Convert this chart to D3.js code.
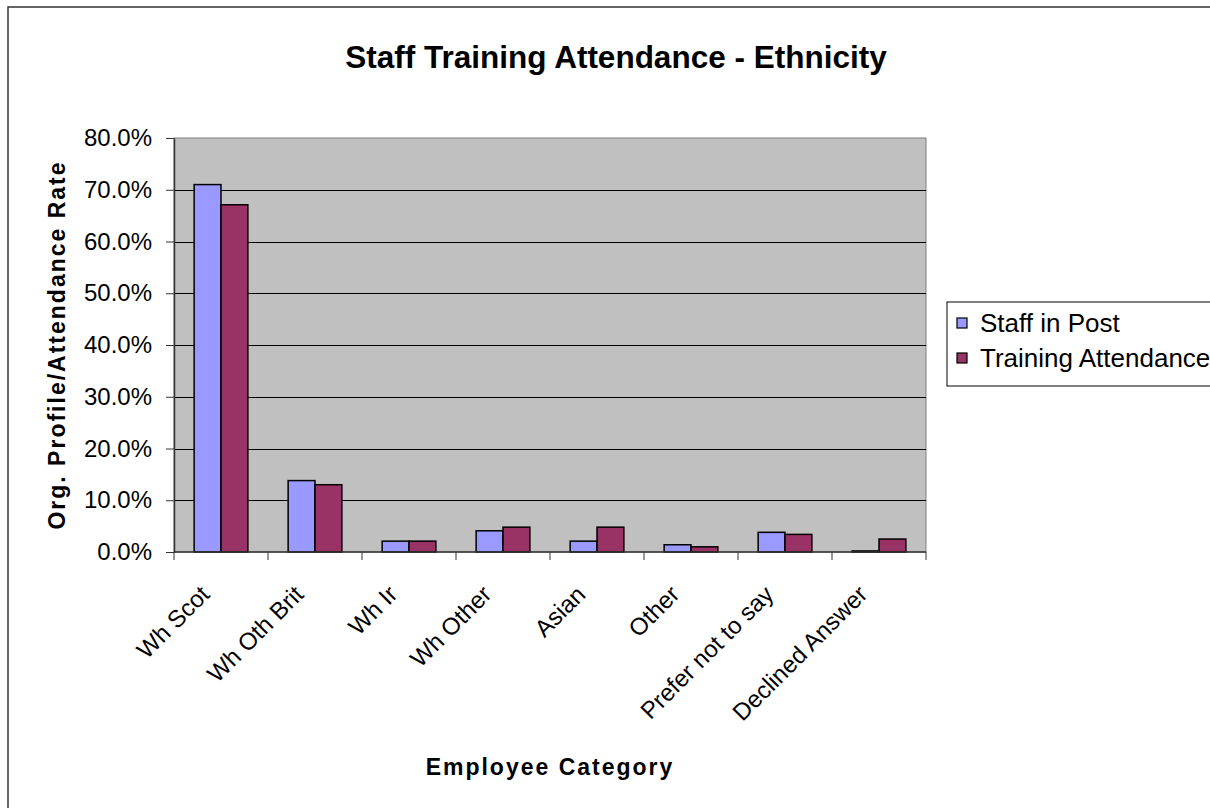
<!DOCTYPE html>
<html>
<head>
<meta charset="utf-8">
<script src="https://cdn.jsdelivr.net/npm/d3@7/dist/d3.min.js"></script>
<style>
  html, body { margin: 0; padding: 0; background: #fff; }
  svg { display: block; font-family: "Liberation Sans", Arial, sans-serif; }
</style>
</head>
<body>
<svg id="chart" width="1210" height="808"></svg>
<script>
// Ethnicity categories and the share (%) of each group
const categories = ["Wh Scot", "Wh Oth Brit", "Wh Ir", "Wh Other", "Asian", "Other", "Prefer not to say", "Declined Answer"];
const seriesNames = ["Staff in Post", "Training Attendance"];
const staffInPost = [71.0, 13.8, 2.1, 4.1, 2.1, 1.4, 3.8, 0.2];
const trainingAttendance = [67.1, 13.0, 2.1, 4.8, 4.8, 1.0, 3.4, 2.5];
const yTicks = [0, 10, 20, 30, 40, 50, 60, 70, 80];
const seriesColors = ["#9999FF", "#993366"];

const rows = categories.map((c, i) => ({
  category: c,
  values: [staffInPost[i], trainingAttendance[i]]
}));

const svg = d3.select("#chart");
const plot = { left: 174, right: 926, top: 138, bottom: 552 };

// Outer chart frame
svg.append("rect")
  .attr("x", 8).attr("y", 7)
  .attr("width", 1300).attr("height", 900)
  .attr("fill", "#fff")
  .attr("stroke", "#333").attr("stroke-width", 1.5);

const x = d3.scaleBand().domain(categories).range([plot.left, plot.right]).padding(0);
const xInner = d3.scaleBand().domain(seriesNames).range([0, x.bandwidth()])
  .paddingInner(0).paddingOuter(0.75);
const y = d3.scaleLinear().domain([0, 80]).range([plot.bottom, plot.top]);

// Plot background
svg.append("rect")
  .attr("x", plot.left).attr("y", plot.top)
  .attr("width", plot.right - plot.left).attr("height", plot.bottom - plot.top)
  .attr("fill", "#C0C0C0")
  .attr("stroke", "#808080").attr("stroke-width", 1);

// Horizontal gridlines
svg.append("g")
  .selectAll("line")
  .data(yTicks.filter(t => t > 0 && t < 80))
  .join("line")
  .attr("x1", plot.left).attr("x2", plot.right)
  .attr("y1", d => Math.round(y(d)) + 0.5).attr("y2", d => Math.round(y(d)) + 0.5)
  .attr("stroke", "#000").attr("stroke-width", 1);

// Bars
const groups = svg.append("g")
  .selectAll("g")
  .data(rows)
  .join("g")
  .attr("transform", d => `translate(${x(d.category)},0)`);

groups.selectAll("rect")
  .data(d => d.values.map((v, i) => ({ name: seriesNames[i], value: v, i })))
  .join("rect")
  .attr("x", d => xInner(d.name))
  .attr("y", d => y(d.value))
  .attr("width", xInner.bandwidth())
  .attr("height", d => y(0) - y(d.value))
  .attr("fill", d => seriesColors[d.i])
  .attr("stroke", "#000").attr("stroke-width", 1.5);

// Y axis
const yAxis = d3.axisLeft(y)
  .tickValues(yTicks)
  .tickFormat(d => d.toFixed(1) + "%")
  .tickSize(8)
  .tickPadding(14)
  .tickSizeOuter(0);

const gy = svg.append("g")
  .attr("transform", `translate(${plot.left},0)`)
  .call(yAxis);
gy.select(".domain").attr("stroke", "#333").attr("stroke-width", 1.5);
gy.selectAll(".tick line").attr("stroke", "#333");
gy.selectAll(".tick text")
  .attr("font-size", 24)
  .attr("font-family", "Liberation Sans, Arial, sans-serif")
  .attr("fill", "#000");

// X axis line and category separators
svg.append("line")
  .attr("x1", plot.left).attr("x2", plot.right)
  .attr("y1", plot.bottom).attr("y2", plot.bottom)
  .attr("stroke", "#333").attr("stroke-width", 1.5);

const boundaries = categories.map(c => x(c)).concat([plot.right]);
svg.append("g")
  .selectAll("line")
  .data(boundaries)
  .join("line")
  .attr("x1", d => d).attr("x2", d => d)
  .attr("y1", plot.bottom).attr("y2", plot.bottom + 8)
  .attr("stroke", "#333").attr("stroke-width", 1);

// Rotated category labels
svg.append("g")
  .selectAll("text")
  .data(categories)
  .join("text")
  .attr("transform", d => `translate(${x(d) + x.bandwidth() / 2 - 16},${plot.bottom + 38}) rotate(-45)`)
  .attr("text-anchor", "end")
  .attr("dy", "0.35em")
  .attr("font-size", 24)
  .attr("fill", "#000")
  .text(d => d);

// Title
svg.append("text")
  .attr("x", 616).attr("y", 68)
  .attr("text-anchor", "middle")
  .attr("font-size", 31.5).attr("font-weight", "bold")
  .text("Staff Training Attendance - Ethnicity");

// Axis titles
svg.append("text")
  .attr("x", (plot.left + plot.right) / 2).attr("y", 775)
  .attr("text-anchor", "middle")
  .attr("font-size", 23).attr("font-weight", "bold")
  .attr("letter-spacing", 2)
  .text("Employee Category");

svg.append("text")
  .attr("transform", `translate(65,${(plot.top + plot.bottom) / 2}) rotate(-90)`)
  .attr("text-anchor", "middle")
  .attr("font-size", 23).attr("font-weight", "bold")
  .attr("letter-spacing", 2)
  .text("Org. Profile/Attendance Rate");

// Legend
const legend = svg.append("g").attr("transform", "translate(947,302)");
legend.append("rect")
  .attr("x", 0).attr("y", 0)
  .attr("width", 400).attr("height", 84)
  .attr("fill", "#fff").attr("stroke", "#000").attr("stroke-width", 1);

const items = legend.selectAll("g.item")
  .data(seriesNames)
  .join("g")
  .attr("class", "item")
  .attr("transform", (d, i) => `translate(10,${21 + i * 35})`);
items.append("rect")
  .attr("x", 0).attr("y", -5)
  .attr("width", 10).attr("height", 10)
  .attr("fill", (d, i) => seriesColors[i])
  .attr("stroke", "#000").attr("stroke-width", 1.2);
items.append("text")
  .attr("x", 23).attr("dy", "0.36em")
  .attr("font-size", 26)
  .text(d => d);
</script>
</body>
</html>
